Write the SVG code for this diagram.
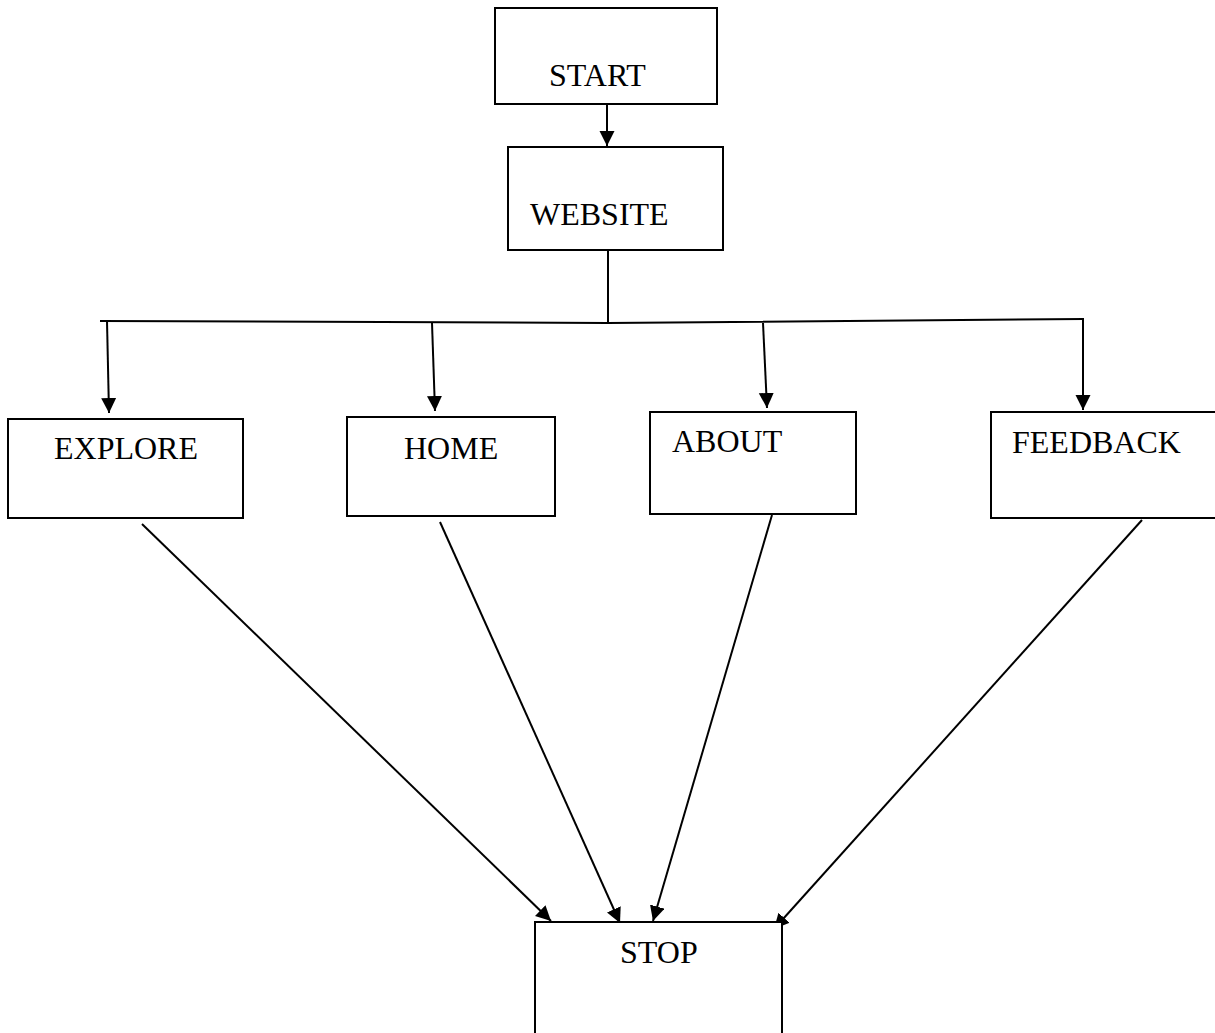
<svg xmlns="http://www.w3.org/2000/svg" width="1215" height="1033" viewBox="0 0 1215 1033">
<style>
.box{fill:#fff;stroke:#000;stroke-width:2}
.lbl{font-family:"Liberation Serif","Times New Roman",serif;font-size:32px;fill:#000}
.ln{fill:none;stroke:#000;stroke-width:2}
</style>
<defs>
<marker id="ah" markerUnits="userSpaceOnUse" markerWidth="16" markerHeight="16" viewBox="0 0 16 16" refX="15" refY="7.5" orient="auto">
<path d="M0,0 L15,7.5 L0,15 Z" fill="#000"/>
</marker>
</defs>
<rect width="1215" height="1033" fill="#fff"/>
<g id="connectors">
<line class="ln" x1="607" y1="98" x2="607" y2="146" marker-end="url(#ah)"/>
<line class="ln" x1="608" y1="250" x2="608" y2="322"/>
<polyline class="ln" points="100,321 608,323 1084,319"/>
<line class="ln" x1="107" y1="321" x2="109" y2="413" marker-end="url(#ah)"/>
<line class="ln" x1="432" y1="323" x2="435" y2="411" marker-end="url(#ah)"/>
<line class="ln" x1="763" y1="323" x2="767" y2="408" marker-end="url(#ah)"/>
<line class="ln" x1="1083" y1="319" x2="1083" y2="410" marker-end="url(#ah)"/>
<line class="ln" x1="142" y1="524" x2="551" y2="921" marker-end="url(#ah)"/>
<line class="ln" x1="440" y1="522" x2="620" y2="923" marker-end="url(#ah)"/>
<line class="ln" x1="772" y1="515" x2="653" y2="921" marker-end="url(#ah)"/>
<line class="ln" x1="1142" y1="520" x2="774" y2="929" marker-end="url(#ah)"/>
</g>
<g id="start"><rect class="box" x="495" y="8" width="222" height="96"/><text class="lbl" x="549" y="86">START</text></g>
<g id="website"><rect class="box" x="508" y="147" width="215" height="103"/><text class="lbl" x="530" y="225">WEBSITE</text></g>
<g id="explore"><rect class="box" x="8" y="419" width="235" height="99"/><text class="lbl" x="54" y="459">EXPLORE</text></g>
<g id="home"><rect class="box" x="347" y="417" width="208" height="99"/><text class="lbl" x="404" y="459">HOME</text></g>
<g id="about"><rect class="box" x="650" y="412" width="206" height="102"/><text class="lbl" x="672" y="452">ABOUT</text></g>
<g id="feedback"><rect class="box" x="991" y="412" width="240" height="106"/><text class="lbl" x="1012" y="453">FEEDBACK</text></g>
<g id="stop"><rect class="box" x="535" y="922" width="247" height="130"/><text class="lbl" x="620" y="963">STOP</text></g>
</svg>
